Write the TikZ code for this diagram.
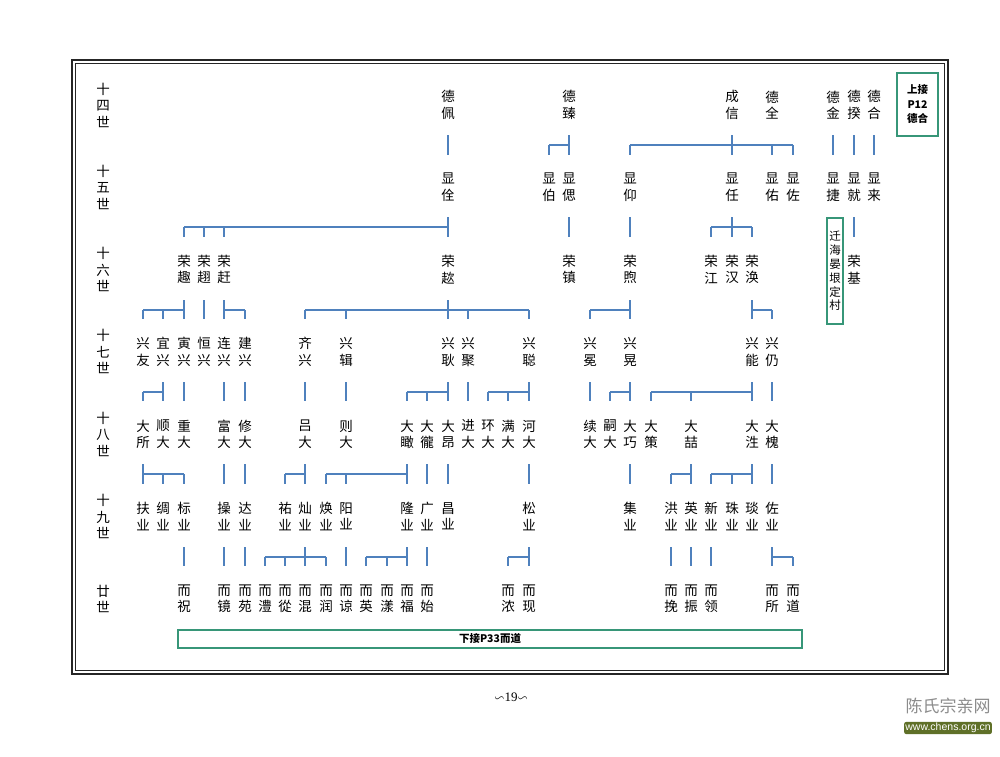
\documentclass[tikz,border=0pt]{standalone}
\usepackage{fontspec}
\usepackage{amssymb}
\setmainfont{Liberation Serif}
\newfontfamily\cjk{Noto Sans CJK SC}
\newfontfamily\lsans{Liberation Sans}
\definecolor{lineblue}{HTML}{4F81BD}
\definecolor{boxgreen}{RGB}{55,150,120}
\definecolor{urlbg}{RGB}{95,112,40}
\newcommand{\nmb}[3]{\node[nm] (n#1x#2) at ({round(143+20.3*#2)},{105+82.3*(#1-14)}) {#3};}
\newcommand{\pln}[2]{\draw[ln] (#1 |- s#2) -- (#1 |- e#2);}
\newcommand{\bsl}[3]{\draw[ln] (#1 |- b#3) -- (#2 |- b#3);}
\newcommand{\tck}[2]{\draw[ln] (#1 |- b#2) -- (#1 |- e#2);}
\begin{document}
\begin{tikzpicture}[x=1pt,y=-1pt,
  nm/.style={font=\cjk\fontsize{13.5}{16.5}\selectfont, align=center, inner sep=0pt},
  ln/.style={draw=lineblue, line width=2pt},
  gbox/.style={draw=boxgreen, line width=1.3pt, inner sep=0pt}]
\useasboundingbox (0,0) rectangle (1000,756);
\fill[white] (0,0) rectangle (1000,756);
% frame
\draw[black!85, line width=1.8pt] (72,60) rectangle (948,674);
\draw[black!85, line width=0.8pt] (75.5,63.5) rectangle (944.5,670.5);
% gap levels
\foreach \g in {14,...,19}{
  \coordinate (s\g) at (0,{round(105+82.3*(\g-14)+30)});
  \coordinate (b\g) at (0,{round(105+82.3*(\g-14)+40)});
  \coordinate (e\g) at (0,{round(105+82.3*(\g-14)+49.5)});
}
% generation labels
\node[nm] (l14) at (103,105) {十\\四\\世};
\node[nm] (l15) at (103,187.3) {十\\五\\世};
\node[nm] (l16) at (103,269.6) {十\\六\\世};
\node[nm] (l17) at (103,351.9) {十\\七\\世};
\node[nm] (l18) at (103,434.2) {十\\八\\世};
\node[nm] (l19) at (103,516.5) {十\\九\\世};
\node[nm] (l20) at (103,598.8) {廿\\世};
% gen 14
\nmb{14}{15}{德\\佩}
\nmb{14}{21}{德\\臻}
\nmb{14}{29}{成\\信}
\nmb{14}{31}{德\\全}
\nmb{14}{34}{德\\金}
\nmb{14}{35}{德\\揆}
\nmb{14}{36}{德\\合}
% gen 15
\nmb{15}{15}{显\\佺}
\nmb{15}{20}{显\\伯}
\nmb{15}{21}{显\\偲}
\nmb{15}{24}{显\\仰}
\nmb{15}{29}{显\\任}
\nmb{15}{31}{显\\佑}
\nmb{15}{32}{显\\佐}
\nmb{15}{34}{显\\捷}
\nmb{15}{35}{显\\就}
\nmb{15}{36}{显\\来}
% gen 16
\nmb{16}{2}{荣\\趣}
\nmb{16}{3}{荣\\趐}
\nmb{16}{4}{荣\\赶}
\nmb{16}{15}{荣\\趑}
\nmb{16}{21}{荣\\镇}
\nmb{16}{24}{荣\\煦}
\nmb{16}{28}{荣\\江}
\nmb{16}{29}{荣\\汉}
\nmb{16}{30}{荣\\涣}
\nmb{16}{35}{荣\\基}
% gen 17
\nmb{17}{0}{兴\\友}
\nmb{17}{1}{宜\\兴}
\nmb{17}{2}{寅\\兴}
\nmb{17}{3}{恒\\兴}
\nmb{17}{4}{连\\兴}
\nmb{17}{5}{建\\兴}
\nmb{17}{8}{齐\\兴}
\nmb{17}{10}{兴\\辑}
\nmb{17}{15}{兴\\耿}
\nmb{17}{16}{兴\\聚}
\nmb{17}{19}{兴\\聪}
\nmb{17}{22}{兴\\冕}
\nmb{17}{24}{兴\\晃}
\nmb{17}{30}{兴\\能}
\nmb{17}{31}{兴\\仍}
% gen 18
\nmb{18}{0}{大\\所}
\nmb{18}{1}{顺\\大}
\nmb{18}{2}{重\\大}
\nmb{18}{4}{富\\大}
\nmb{18}{5}{修\\大}
\nmb{18}{8}{吕\\大}
\nmb{18}{10}{则\\大}
\nmb{18}{13}{大\\瞰}
\nmb{18}{14}{大\\徿}
\nmb{18}{15}{大\\昂}
\nmb{18}{16}{进\\大}
\nmb{18}{17}{环\\大}
\nmb{18}{18}{满\\大}
\nmb{18}{19}{河\\大}
\nmb{18}{22}{续\\大}
\nmb{18}{23}{嗣\\大}
\nmb{18}{24}{大\\巧}
\nmb{18}{25}{大\\策}
\nmb{18}{27}{大\\喆}
\nmb{18}{30}{大\\泩}
\nmb{18}{31}{大\\槐}
% gen 19
\nmb{19}{0}{扶\\业}
\nmb{19}{1}{绸\\业}
\nmb{19}{2}{标\\业}
\nmb{19}{4}{操\\业}
\nmb{19}{5}{达\\业}
\nmb{19}{7}{祐\\业}
\nmb{19}{8}{灿\\业}
\nmb{19}{9}{焕\\业}
\nmb{19}{10}{阳\\业}
\nmb{19}{13}{隆\\业}
\nmb{19}{14}{广\\业}
\nmb{19}{15}{昌\\业}
\nmb{19}{19}{松\\业}
\nmb{19}{24}{集\\业}
\nmb{19}{26}{洪\\业}
\nmb{19}{27}{英\\业}
\nmb{19}{28}{新\\业}
\nmb{19}{29}{珠\\业}
\nmb{19}{30}{琰\\业}
\nmb{19}{31}{佐\\业}
% gen 20
\nmb{20}{2}{而\\祝}
\nmb{20}{4}{而\\镜}
\nmb{20}{5}{而\\苑}
\nmb{20}{6}{而\\澧}
\nmb{20}{7}{而\\從}
\nmb{20}{8}{而\\混}
\nmb{20}{9}{而\\润}
\nmb{20}{10}{而\\谅}
\nmb{20}{11}{而\\英}
\nmb{20}{12}{而\\漾}
\nmb{20}{13}{而\\福}
\nmb{20}{14}{而\\始}
\nmb{20}{18}{而\\浓}
\nmb{20}{19}{而\\现}
\nmb{20}{26}{而\\挽}
\nmb{20}{27}{而\\振}
\nmb{20}{28}{而\\领}
\nmb{20}{31}{而\\所}
\nmb{20}{32}{而\\道}
% connectors 14 -> 15
\pln{n14x15}{14}
\pln{n14x21}{14} \bsl{n15x20}{n14x21}{14} \tck{n15x20}{14}
\pln{n14x29}{14} \bsl{n15x24}{n15x32}{14} \tck{n15x24}{14} \tck{n15x31}{14} \tck{n15x32}{14}
\pln{n14x34}{14} \pln{n14x35}{14} \pln{n14x36}{14}
% 15 -> 16
\pln{n15x15}{15} \bsl{n16x2}{n15x15}{15} \tck{n16x2}{15} \tck{n16x3}{15} \tck{n16x4}{15}
\pln{n15x21}{15} \pln{n15x24}{15}
\pln{n15x29}{15} \bsl{n16x28}{n16x30}{15} \tck{n16x28}{15} \tck{n16x30}{15}
\pln{n15x35}{15}
% 16 -> 17
\pln{n16x2}{16} \bsl{n17x0}{n16x2}{16} \tck{n17x0}{16} \tck{n17x1}{16}
\pln{n16x3}{16}
\pln{n16x4}{16} \bsl{n16x4}{n17x5}{16} \tck{n17x5}{16}
\pln{n16x15}{16} \bsl{n17x8}{n17x19}{16} \tck{n17x8}{16} \tck{n17x10}{16} \tck{n17x16}{16} \tck{n17x19}{16}
\pln{n16x24}{16} \bsl{n17x22}{n16x24}{16} \tck{n17x22}{16}
\pln{n16x30}{16} \bsl{n16x30}{n17x31}{16} \tck{n17x31}{16}
% 17 -> 18
\pln{n17x1}{17} \bsl{n18x0}{n17x1}{17} \tck{n18x0}{17}
\pln{n17x2}{17} \pln{n17x4}{17} \pln{n17x5}{17} \pln{n17x8}{17} \pln{n17x10}{17}
\pln{n17x15}{17} \bsl{n18x13}{n17x15}{17} \tck{n18x13}{17} \tck{n18x14}{17}
\pln{n17x16}{17}
\pln{n17x19}{17} \bsl{n18x17}{n17x19}{17} \tck{n18x17}{17} \tck{n18x18}{17}
\pln{n17x22}{17}
\pln{n17x24}{17} \bsl{n18x23}{n17x24}{17} \tck{n18x23}{17}
\pln{n17x30}{17} \bsl{n18x25}{n17x30}{17} \tck{n18x25}{17} \tck{n18x27}{17}
\pln{n17x31}{17}
% 18 -> 19
\pln{n18x0}{18} \bsl{n18x0}{n19x2}{18} \tck{n19x1}{18} \tck{n19x2}{18}
\pln{n18x4}{18} \pln{n18x5}{18}
\pln{n18x8}{18} \bsl{n19x7}{n18x8}{18} \tck{n19x7}{18}
\pln{n18x13}{18} \bsl{n19x9}{n18x13}{18} \tck{n19x9}{18} \tck{n19x10}{18}
\pln{n18x14}{18} \pln{n18x15}{18} \pln{n18x19}{18} \pln{n18x24}{18}
\pln{n18x27}{18} \bsl{n19x26}{n18x27}{18} \tck{n19x26}{18}
\pln{n18x30}{18} \bsl{n19x28}{n18x30}{18} \tck{n19x28}{18} \tck{n19x29}{18}
\pln{n18x31}{18}
% 19 -> 20
\pln{n19x2}{19} \pln{n19x4}{19} \pln{n19x5}{19}
\pln{n19x8}{19} \bsl{n20x6}{n20x9}{19} \tck{n20x6}{19} \tck{n20x7}{19} \tck{n20x9}{19}
\pln{n19x10}{19}
\pln{n19x13}{19} \bsl{n20x11}{n19x13}{19} \tck{n20x11}{19} \tck{n20x12}{19}
\pln{n19x14}{19}
\pln{n19x19}{19} \bsl{n20x18}{n19x19}{19} \tck{n20x18}{19}
\pln{n19x26}{19} \pln{n19x27}{19} \pln{n19x28}{19}
\pln{n19x31}{19} \bsl{n19x31}{n20x32}{19} \tck{n20x32}{19}
% boxes
\node[gbox, minimum width=41pt, minimum height=63pt, align=center,
  font=\cjk\bfseries\fontsize{10.5}{14.5}\selectfont] (up) at (917.5,104.5) {上接\\P12\\德合};
\node[gbox, minimum width=16pt, minimum height=106pt, align=center,
  font=\cjk\fontsize{11.5}{13.8}\selectfont] (qian) at (835,271) {迁\\海\\晏\\垠\\定\\村};
\node[gbox, minimum width=624pt, minimum height=18pt,
  font=\cjk\bfseries\fontsize{10.5}{11}\selectfont] (down) at (490,639) {下接P33而道};
% page number
\node[font=\fontsize{13}{14}\selectfont, inner sep=0pt] (pg) at (511,697) {$\backsim$19$\backsim$};
% watermark
\node[font=\cjk\fontsize{17}{18}\selectfont, text=black!45, inner sep=0pt] (wm) at (948,706) {陈氏宗亲网};
\node[font=\lsans\fontsize{10.5}{11}\selectfont, text=white, fill=urlbg, rounded corners=2pt, inner sep=1.2pt] (url) at (948,728) {www.chens.org.cn};
\end{tikzpicture}
\end{document}
